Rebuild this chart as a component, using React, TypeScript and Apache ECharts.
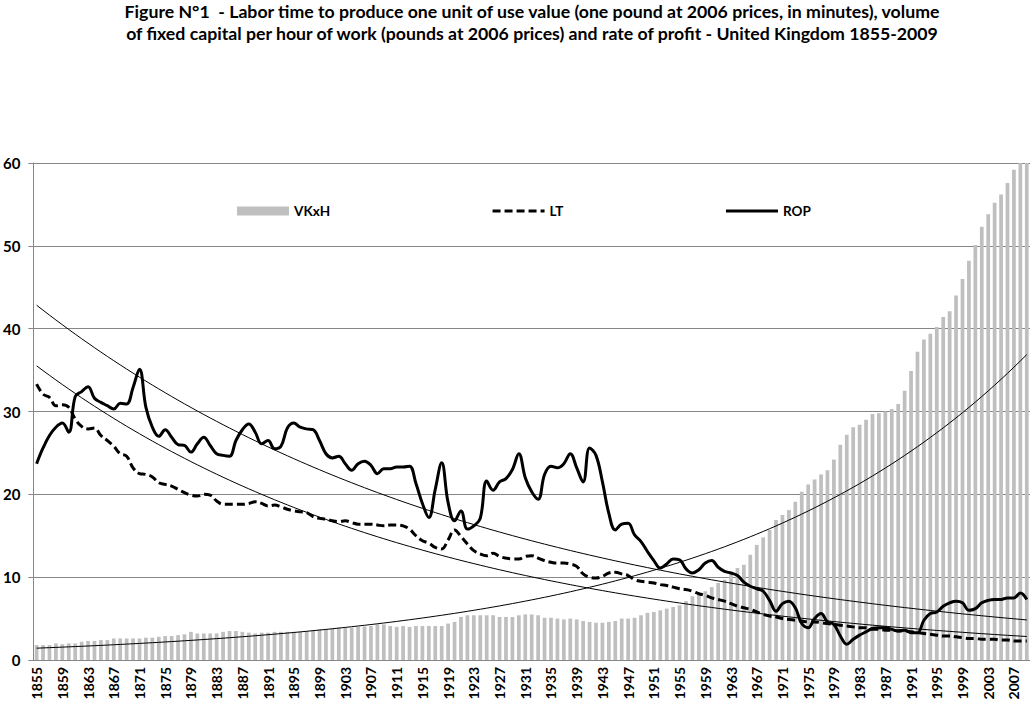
import { useEffect, useRef } from "react";
import * as echarts from "echarts";

const FONT = "Lato, 'Open Sans', sans-serif";

const TITLE =
  "Figure N°1  - Labor time to produce one unit of use value (one pound at 2006 prices, in minutes), volume\n" +
  "of fixed capital per hour of work (pounds at 2006 prices) and rate of profit - United Kingdom 1855-2009";

const years: string[] = [];
for (let y = 1855; y <= 2009; y++) years.push(String(y));

// volume of fixed capital per hour of work
const vkxh = [
  1.8, 1.8, 1.8, 2.0, 1.9, 2.0, 2.0, 2.2, 2.3, 2.3,
  2.4, 2.4, 2.6, 2.6, 2.6, 2.6, 2.6, 2.7, 2.7, 2.8,
  2.9, 2.9, 3.0, 3.1, 3.4, 3.2, 3.2, 3.2, 3.2, 3.4,
  3.5, 3.5, 3.4, 3.3, 3.2, 3.3, 3.3, 3.4, 3.4, 3.4,
  3.4, 3.4, 3.5, 3.6, 3.7, 3.7, 3.8, 3.9, 3.9, 3.9,
  4.0, 4.05, 4.1, 4.3, 4.3, 4.1, 4.0, 4.1, 4.0, 4.1,
  4.1, 4.1, 4.1, 4.1, 4.4, 4.6, 5.2, 5.4, 5.4, 5.4,
  5.4, 5.4, 5.2, 5.2, 5.2, 5.4, 5.5, 5.5, 5.4, 5.1,
  5.1, 5.0, 4.9, 5.0, 4.9, 4.7, 4.6, 4.5, 4.5, 4.6,
  4.7, 5.0, 5.0, 5.1, 5.4, 5.7, 5.8, 6.0, 6.2, 6.4,
  6.6, 7.1, 7.7, 8.1, 8.3, 8.8, 9.3, 9.7, 10.4, 11.1,
  11.5, 12.7, 13.9, 14.8, 15.7, 16.9, 17.5, 18.1, 19.1, 20.3,
  21.2, 21.8, 22.4, 22.9, 24.2, 26.0, 27.2, 28.1, 28.4, 29.0,
  29.7, 29.8, 30.0, 30.3, 30.9, 32.5, 34.9, 37.2, 38.7, 39.4,
  40.2, 41.4, 42.1, 44.0, 46.0, 48.2, 50.1, 52.3, 53.8, 55.2,
  56.2, 57.6, 59.2, 60.5, 61.5,
];

// labor time per unit of use value
const lt = [
  33.3, 32.1, 31.7, 30.7, 30.8, 30.5, 29.1, 28.2, 27.9, 28.0,
  27.1, 26.5, 25.8, 24.9, 24.6, 23.2, 22.5, 22.4, 22.1, 21.4,
  21.2, 21.0, 20.6, 20.2, 19.9, 19.8, 20.0, 19.9, 19.2, 18.8,
  18.8, 18.8, 18.8, 18.9, 19.1, 18.9, 18.6, 18.7, 18.5, 18.2,
  18.0, 17.9, 17.8, 17.3, 17.1, 17.0, 16.8, 16.7, 16.8, 16.6,
  16.4, 16.4, 16.4, 16.3, 16.2, 16.3, 16.3, 16.2, 15.8, 15.0,
  14.4, 14.1, 13.6, 13.4, 14.5, 15.7, 14.9, 14.0, 13.2, 12.8,
  12.6, 12.9, 12.5, 12.3, 12.2, 12.2, 12.5, 12.6, 12.3, 12.0,
  11.8, 11.7, 11.7, 11.6, 11.3, 10.4, 10.0, 9.9, 10.1, 10.5,
  10.6, 10.4, 10.2, 9.7, 9.5, 9.4, 9.3, 9.1, 9.0, 8.8,
  8.6, 8.5, 8.3, 8.0, 7.8, 7.5, 7.3, 7.1, 6.8, 6.5,
  6.3, 6.1, 5.8, 5.5, 5.3, 5.2, 5.0, 4.9, 4.8, 4.7,
  4.6, 4.6, 4.5, 4.4, 4.3, 4.2, 4.1, 4.0, 3.9, 3.9,
  3.7, 3.7, 3.6, 3.6, 3.5, 3.5, 3.4, 3.3, 3.2, 3.1,
  3.0, 2.9, 2.9, 2.8, 2.7, 2.6, 2.6, 2.5, 2.5, 2.5,
  2.4, 2.4, 2.3, 2.3, 2.3,
];

// rate of profit
const rop = [
  23.7, 25.6, 27.1, 28.1, 28.6, 27.5, 31.8, 32.4, 33.0, 31.6,
  31.1, 30.7, 30.3, 31.0, 30.9, 32.9, 35.1, 30.5, 28.1, 27.0,
  27.8, 26.9, 26.0, 25.9, 25.1, 26.1, 26.9, 25.9, 24.9, 24.7,
  24.6, 26.5, 27.8, 28.5, 27.5, 26.1, 26.5, 25.5, 25.8, 28.0,
  28.6, 28.1, 27.9, 27.8, 26.5, 24.9, 24.4, 24.6, 23.7, 22.9,
  23.7, 24.0, 23.5, 22.5, 23.1, 23.1, 23.3, 23.3, 23.4, 21.3,
  18.9, 17.2, 20.6, 23.8, 19.0, 16.8, 18.0, 15.8, 16.2, 17.1,
  21.6, 20.5, 21.5, 21.9, 23.0, 24.9, 22.0, 20.3, 19.4, 22.4,
  23.4, 23.2, 23.7, 24.9, 23.2, 21.5, 25.6, 24.7, 21.5, 17.7,
  15.7, 16.4, 16.5, 15.1, 14.3, 13.1, 12.0, 11.1, 11.6, 12.2,
  12.1, 11.0, 10.5, 10.9, 11.7, 12.0, 11.2, 10.7, 10.5, 10.2,
  9.4, 8.9, 8.6, 8.3, 7.2, 5.9, 6.8, 7.1, 6.3, 4.4,
  3.9, 5.0, 5.6, 4.6, 4.3, 2.9, 1.9, 2.5, 3.0, 3.4,
  3.8, 3.9, 3.9, 3.7, 3.5, 3.6, 3.3, 3.3, 4.8, 5.6,
  5.8, 6.5, 6.9, 7.1, 6.9, 6.0, 6.2, 6.9, 7.2, 7.3,
  7.3, 7.5, 7.5, 8.1, 7.3,
];

// exponential trend (least squares on ln y), like the spreadsheet trendline
function expTrend(values: number[]) {
  const n = values.length;
  let sx = 0, sy = 0, sxx = 0, sxy = 0;
  values.forEach((v, i) => {
    const x = i + 1;
    const ly = Math.log(v);
    sx += x;
    sy += ly;
    sxx += x * x;
    sxy += x * ly;
  });
  const b = (n * sxy - sx * sy) / (n * sxx - sx * sx);
  const a = (sy - b * sx) / n;
  return values.map((_, i) => +Math.exp(a + b * (i + 1)).toFixed(3));
}

const GRID = "#868686";
const noMarker = { color: "rgba(0,0,0,0)", borderColor: "rgba(0,0,0,0)", borderWidth: 0 };

export default function App() {
  const ref = useRef<HTMLDivElement>(null);

  useEffect(() => {
    document.body.style.margin = "0";
    if (!ref.current) return;
    const chart = echarts.init(ref.current, undefined, { renderer: "svg" });

    const trendStyle = {
      type: "line",
      smooth: false,
      symbol: "none",
      silent: true,
      lineStyle: { color: "#000", width: 1 },
      z: 3,
    };

    chart.setOption({
      animation: false,
      textStyle: { fontFamily: FONT },
      graphic: [
        {
          type: "text",
          x: 532,
          y: 0,
          style: {
            text: TITLE,
            textAlign: "center",
            fontFamily: FONT,
            fontSize: 17.7,
            fontWeight: "bold",
            lineHeight: 22,
            fill: "#000",
          },
        },
      ],
      legend: {
        data: [
          { name: "VKxH", icon: "rect" },
          { name: "LT", itemStyle: noMarker },
          { name: "ROP", itemStyle: noMarker },
        ],
        left: 237,
        top: 204,
        padding: 0,
        itemWidth: 52,
        itemHeight: 9,
        itemGap: 161,
        lineStyle: { width: 3 },
        textStyle: { fontFamily: FONT, fontSize: 13.5, fontWeight: "bold", color: "#000" },
      },
      grid: { left: 33, right: 0, top: 163, bottom: 43 },
      xAxis: {
        type: "category",
        data: years,
        axisLine: { lineStyle: { color: GRID } },
        axisTick: { interval: 0, length: 5, lineStyle: { color: GRID } },
        axisLabel: {
          interval: 3,
          rotate: 90,
          margin: 7,
          fontFamily: FONT,
          fontSize: 14,
          fontWeight: "bold",
          color: "#000",
        },
      },
      yAxis: {
        type: "value",
        min: 0,
        max: 60,
        interval: 10,
        axisLine: { show: true, lineStyle: { color: GRID } },
        axisTick: { show: true, length: 5, lineStyle: { color: GRID } },
        splitLine: { lineStyle: { color: GRID } },
        axisLabel: {
          margin: 13,
          fontFamily: FONT,
          fontSize: 15,
          fontWeight: "bold",
          color: "#000",
        },
      },
      series: [
        {
          name: "VKxH",
          type: "bar",
          data: vkxh,
          barCategoryGap: "42%",
          itemStyle: { color: "#bfbfbf" },
          clip: true,
          z: 2,
        },
        { ...trendStyle, name: "VKxH trend", data: expTrend(vkxh) },
        { ...trendStyle, name: "LT trend", data: expTrend(lt) },
        { ...trendStyle, name: "ROP trend", data: expTrend(rop) },
        {
          name: "LT",
          type: "line",
          data: lt,
          smooth: 0.4,
          symbol: "none",
          lineStyle: { color: "#000", width: 3, type: [8, 4] },
          itemStyle: { color: "#000" },
          z: 4,
        },
        {
          name: "ROP",
          type: "line",
          data: rop,
          smooth: 0.4,
          symbol: "none",
          lineStyle: { color: "#000", width: 3 },
          itemStyle: { color: "#000" },
          z: 5,
        },
      ],
    });

    return () => chart.dispose();
  }, []);

  return <div ref={ref} style={{ width: 1030, height: 703 }} />;
}
